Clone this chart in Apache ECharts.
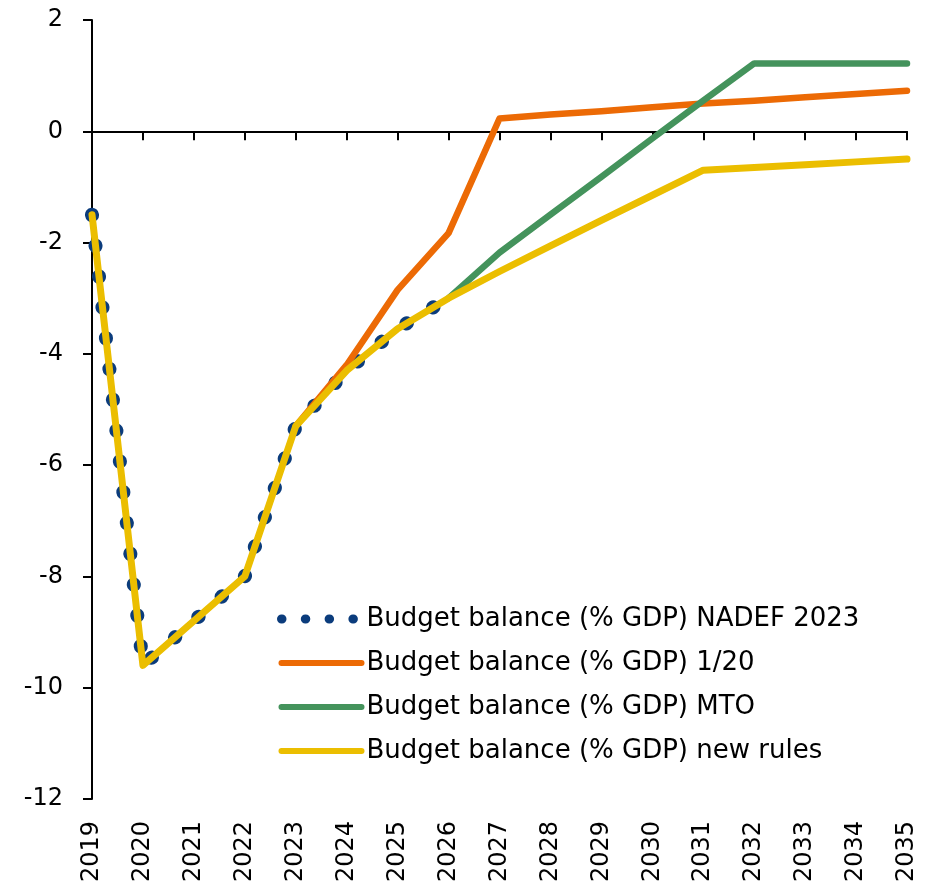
<!DOCTYPE html>
<html>
<head>
<meta charset="utf-8">
<title>Budget balance (% GDP)</title>
<script src="https://cdn.jsdelivr.net/npm/echarts@6/dist/echarts.min.js"></script>
<style>
  html, body { margin: 0; padding: 0; background: #ffffff; }
  #chart { width: 928px; height: 885px; }
</style>
</head>
<body>
<div id="chart"></div>
<script>
// Years on the horizontal axis
const years = ['2019', '2020', '2021', '2022', '2023', '2024', '2025', '2026', '2027',
               '2028', '2029', '2030', '2031', '2032', '2033', '2034', '2035'];

// Budget balance, % of GDP, by scenario
const nadef2023 = [-1.5, -9.6, -8.8, -8.0, -5.3, -4.3, -3.55, -3.0,
                   null, null, null, null, null, null, null, null, null];
const oneTwentieth = [null, null, null, null, -5.3, -4.2, -2.85, -1.83, 0.23,
                      0.3, 0.36, 0.43, 0.5, 0.55, 0.61, 0.67, 0.73];
const mto = [null, null, null, null, null, null, null, -3.0, -2.18,
             -1.5, -0.82, -0.13, 0.55, 1.22, 1.22, 1.22, 1.22];
const newRules = [-1.5, -9.6, -8.8, -8.0, -5.3, -4.3, -3.55, -3.0, -2.52,
                  -2.06, -1.6, -1.15, -0.7, -0.65, -0.6, -0.55, -0.5];

// Value axis range
const yMin = -12, yMax = 2, yStep = 2;

const names = [
  'Budget balance (% GDP) NADEF 2023',
  'Budget balance (% GDP) 1/20',
  'Budget balance (% GDP) MTO',
  'Budget balance (% GDP) new rules'
];
const colors = ['#0B3C7C', '#EC6A05', '#44935C', '#EBBE00'];

const FONT = 'DejaVu Sans';
const chart = echarts.init(document.getElementById('chart'), null, { renderer: 'canvas' });

chart.setOption({
  animation: false,
  backgroundColor: '#ffffff',
  textStyle: { fontFamily: FONT, color: '#000000' },
  grid: { left: 92, right: 21, top: 20, bottom: 84, containLabel: false },
  legend: {
    orient: 'vertical',
    left: 272,
    top: 601,
    itemWidth: 80,
    itemHeight: 14,
    itemGap: 18,
    selectedMode: false,
    textStyle: { fontFamily: FONT, fontSize: 26, color: '#000000' },
    // line-only keys: the marker drawn on top of each key line is hidden
    itemStyle: { opacity: 0 },
    lineStyle: { width: 6, cap: 'round' },
    data: [
      { name: names[0], lineStyle: { width: 9, type: [0.5, 23.3], cap: 'round' } },
      { name: names[1] },
      { name: names[2] },
      { name: names[3] }
    ]
  },
  xAxis: [
    {
      // zero line with its ticks
      type: 'category',
      data: years,
      boundaryGap: false,
      position: 'bottom',
      axisLine: { onZero: true, lineStyle: { color: '#000000', width: 2 } },
      axisTick: { show: true, inside: false, length: 9, lineStyle: { color: '#000000', width: 2 } },
      axisLabel: { show: false },
      splitLine: { show: false }
    },
    {
      // year labels along the bottom edge
      type: 'category',
      data: years,
      boundaryGap: false,
      position: 'bottom',
      axisLine: { show: false, onZero: false },
      axisTick: { show: false },
      axisLabel: {
        show: true,
        rotate: 90,
        margin: 22,
        interval: 0,
        fontFamily: FONT,
        fontSize: 24,
        color: '#000000'
      },
      splitLine: { show: false }
    }
  ],
  yAxis: {
    type: 'value',
    min: yMin,
    max: yMax,
    interval: yStep,
    axisLine: { show: true, lineStyle: { color: '#000000', width: 2 } },
    axisTick: { show: true, inside: false, length: 9, lineStyle: { color: '#000000', width: 2 } },
    axisLabel: { margin: 29, fontFamily: FONT, fontSize: 24, color: '#000000' },
    splitLine: { show: false }
  },
  series: [
    {
      name: names[0],
      type: 'line',
      data: nadef2023,
      symbol: 'none',
      color: colors[0],
      lineStyle: { width: 14, type: [0.5, 30.5], cap: 'round', color: colors[0] },
      z: 2
    },
    {
      name: names[1],
      type: 'line',
      data: oneTwentieth,
      symbol: 'none',
      color: colors[1],
      lineStyle: { width: 6.5, cap: 'round', join: 'round', color: colors[1] },
      z: 3
    },
    {
      name: names[2],
      type: 'line',
      data: mto,
      symbol: 'none',
      color: colors[2],
      lineStyle: { width: 6.5, cap: 'round', join: 'round', color: colors[2] },
      z: 4
    },
    {
      name: names[3],
      type: 'line',
      data: newRules,
      symbol: 'none',
      color: colors[3],
      lineStyle: { width: 7, cap: 'round', join: 'round', color: colors[3] },
      z: 5
    }
  ]
});
</script>
</body>
</html>
